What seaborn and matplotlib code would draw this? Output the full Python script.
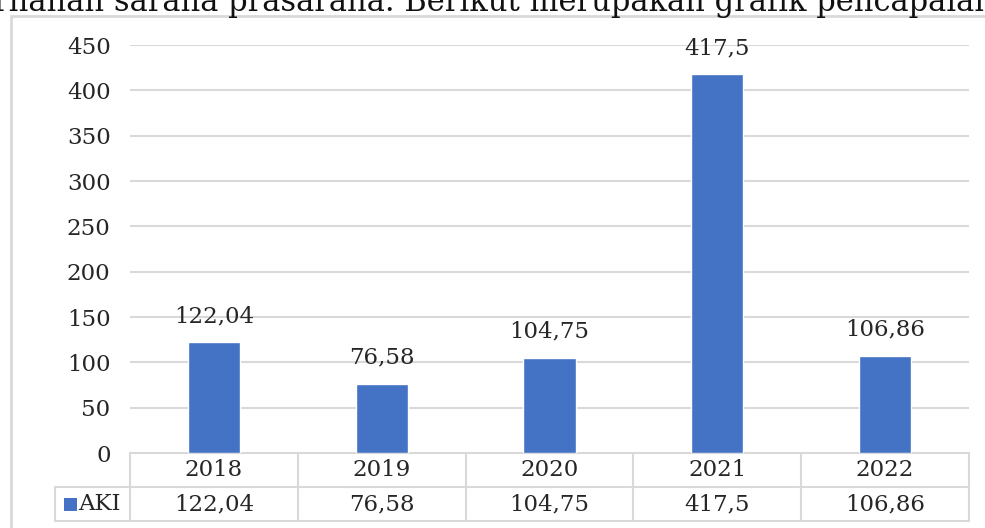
import matplotlib
matplotlib.use('Agg')
import matplotlib.pyplot as plt
import matplotlib.transforms as mtrans
import seaborn as sns
import pandas as pd
from matplotlib.patches import Rectangle

years = ['2018', '2019', '2020', '2021', '2022']
aki = [122.04, 76.58, 104.75, 417.5, 106.86]
aki_labels = ['122,04', '76,58', '104,75', '417,5', '106,86']
series_name = 'AKI'
y_ticks = [0, 50, 100, 150, 200, 250, 300, 350, 400, 450]

bar_color = '#4472C4'
grid_color = '#d9d9d9'
fs = 16.5

sns.set_theme(style='white')
plt.rcParams['font.family'] = ['DejaVu Serif']

W, H = 985, 528
fig = plt.figure(figsize=(W / 100, H / 100), dpi=100)

# outer chart frame
fig.patches.append(Rectangle((11 / W, -0.01), 1.0, (H - 16) / H + 0.01,
                             transform=fig.transFigure, fill=False,
                             edgecolor=grid_color, linewidth=2))

# sentence above the chart, cut by the top edge as in the source page
fig.text(-6 / W, 1 - 11 / H, 'rnanan sarana prasarana. Berikut merupakan grafik pencapaian',
         fontsize=22, ha='left', va='baseline', color='#111111')

ax_l, ax_r, ax_t, ax_b = 130, 969, 45, 453
ax = fig.add_axes([ax_l / W, 1 - ax_b / H, (ax_r - ax_l) / W, (ax_b - ax_t) / H])

df = pd.DataFrame({'year': years, 'value': aki})
sns.barplot(data=df, x='year', y='value', color=bar_color, saturation=1,
            width=0.31, ax=ax, zorder=3)

ax.set_ylim(0, 450)
ax.set_xlim(-0.5, len(years) - 0.5)
ax.set_yticks(y_ticks)
ax.set_yticklabels([str(t) for t in y_ticks], fontsize=fs)
ax.tick_params(axis='y', length=0, pad=14)
ax.set_xticks([])
ax.set_xlabel('')
ax.set_ylabel('')
for s in ax.spines.values():
    s.set_visible(False)
for t in y_ticks[1:]:
    ax.axhline(t, color=grid_color, linewidth=1.5, zorder=1)

for i, (v, lab) in enumerate(zip(aki, aki_labels)):
    ax.annotate(lab, (i, v), xytext=(0, 11), textcoords='offset points',
                ha='center', va='bottom', fontsize=fs)

# data table below the plot (x in data units, y in axes units below the axis)
row_h = 34 / (ax_b - ax_t)
col_px = (ax_r - ax_l) / len(years)
leg_x = -0.5 - 75 / col_px
trans = mtrans.blended_transform_factory(ax.transData, ax.transAxes)
n = len(years)
kw = dict(transform=trans, color=grid_color, linewidth=1.5, clip_on=False)
ax.plot([-0.5, n - 0.5], [0, 0], **kw)
ax.plot([leg_x, n - 0.5], [-row_h, -row_h], **kw)
ax.plot([leg_x, n - 0.5], [-2 * row_h, -2 * row_h], **kw)
for k in range(n + 1):
    ax.plot([k - 0.5, k - 0.5], [0, -2 * row_h], **kw)
ax.plot([leg_x] * 2, [-row_h, -2 * row_h], **kw)

for i, (yr, lab) in enumerate(zip(years, aki_labels)):
    ax.text(i, -0.5 * row_h, yr, transform=trans, ha='center', va='center', fontsize=fs)
    ax.text(i, -1.5 * row_h, lab, transform=trans, ha='center', va='center', fontsize=fs)

ax.text(-0.5 - 52 / col_px, -1.5 * row_h, series_name, transform=trans,
        ha='left', va='center', fontsize=fs)
# legend key
fig.patches.append(Rectangle((64 / W, 1 - 511 / H), 13 / W, 13 / H,
                             transform=fig.transFigure, facecolor=bar_color,
                             edgecolor='none'))

fig.savefig('out.png', dpi=100)
